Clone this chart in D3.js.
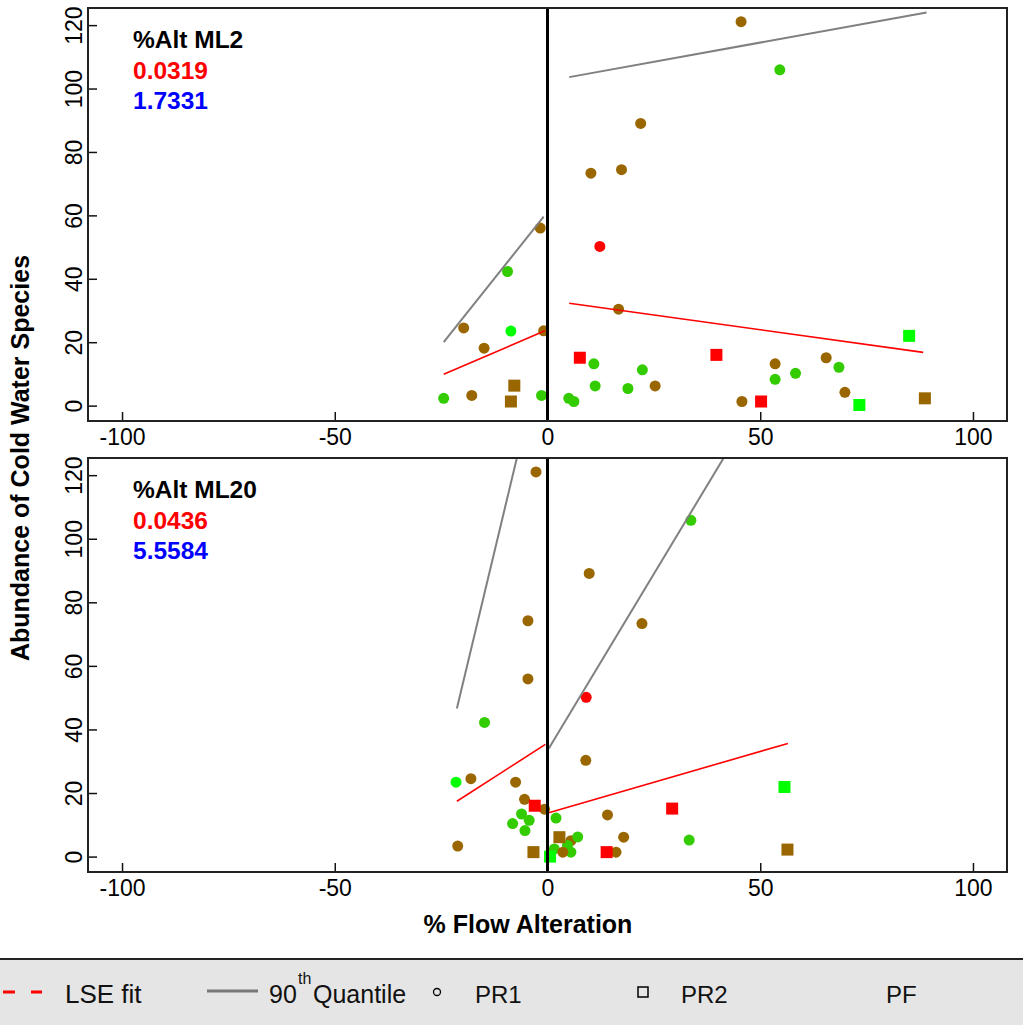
<!DOCTYPE html>
<html><head><meta charset="utf-8">
<script src="https://cdn.jsdelivr.net/npm/d3@7"></script>
<style>
html,body{margin:0;padding:0;background:#fff;}
svg{display:block;font-family:"Liberation Sans",Arial,sans-serif;}
</style></head>
<body>
<svg id="c" width="1023" height="1025"></svg>
<script>
// ---- data ----
const colorNames = ["brown","green","lime","red"];
const colorValues = ["#996600","#33cc00","#00ff00","#ff0000"];

// Panel 1: %Alt ML2
const ml2X = [45.5,54.6,21.9,10.2,17.4,-1.7,12.3,-9.4,16.7,-19.7,-8.6,-0.9,-14.9,7.6,39.7,10.9,22.3,11.2,18.9,25.3,-7.8,-8.6,-24.4,-17.8,-1.4,5.0,6.2,85.0,53.5,53.5,58.3,65.5,68.5,69.9,45.7,50.2,73.3,88.7];
const ml2Y = [121.1,105.9,89.0,73.3,74.4,56.0,50.2,42.3,30.4,24.5,23.5,23.6,18.1,15.1,16.0,13.2,11.3,6.2,5.4,6.2,6.3,1.3,2.3,3.2,3.2,2.3,1.3,22.0,13.2,8.3,10.2,15.1,12.1,4.2,1.3,1.3,0.2,2.3];
const ml2Shape = ["PR1","PR1","PR1","PR1","PR1","PR1","PR1","PR1","PR1","PR1","PR1","PR1","PR1","PR2","PR2","PR1","PR1","PR1","PR1","PR1","PR2","PR2","PR1","PR1","PR1","PR1","PR1","PR2","PR1","PR1","PR1","PR1","PR1","PR1","PR1","PR2","PR2","PR2"];
const ml2Color = ["brown","green","brown","brown","brown","brown","red","green","brown","brown","lime","brown","brown","red","red","green","green","green","green","brown","brown","brown","green","brown","green","green","green","lime","brown","green","green","brown","green","brown","brown","red","lime","brown"];
const ml2Quantile = [[[-24.4,20.0],[-0.9,59.6]],[[5.1,103.6],[89.1,124.0]]];
const ml2LSE = [[[-24.4,9.9],[-0.6,23.6]],[[5.1,32.3],[88.3,16.8]]];
const ml2Stats = ["%Alt ML2","0.0319","1.7331"];

// Panel 2: %Alt ML20
const ml20X = [5.5,-2.7,33.7,9.8,-4.6,22.2,-4.6,9.1,-14.8,9.0,-21.5,-18.0,-7.5,-5.4,-3.0,-0.7,2.0,14.1,29.3,55.7,-6.1,-4.3,-8.2,-5.3,2.8,7.1,17.9,33.3,-21.1,-3.3,0.6,4.7,5.5,1.6,3.6,13.9,16.1,56.4];
const ml20Y = [5.0,121.0,105.8,89.1,74.2,73.3,55.9,50.1,42.2,30.3,23.4,24.5,23.4,18.0,16.0,14.9,12.1,13.1,15.1,21.9,13.4,11.4,10.4,8.2,6.1,6.2,6.1,5.2,3.3,1.4,0.0,3.5,1.4,2.4,1.4,1.4,1.4,2.2];
const ml20Shape = ["PR1","PR1","PR1","PR1","PR1","PR1","PR1","PR1","PR1","PR1","PR1","PR1","PR1","PR1","PR2","PR1","PR1","PR1","PR2","PR2","PR1","PR1","PR1","PR1","PR2","PR1","PR1","PR1","PR1","PR2","PR2","PR1","PR1","PR1","PR1","PR2","PR1","PR2"];
const ml20Color = ["brown","brown","green","brown","brown","brown","brown","red","green","brown","lime","brown","brown","brown","red","brown","green","brown","red","lime","green","green","green","green","brown","green","brown","green","brown","brown","lime","green","green","green","brown","red","brown","brown"];
const ml20Quantile = [[[-21.3,46.6],[-7.2,125.4]],[[0.3,34.0],[41.4,125.4]]];
const ml20LSE = [[[-21.3,17.4],[-0.5,35.3]],[[0.3,13.8],[56.5,35.6]]];
const ml20Stats = ["%Alt ML20","0.0436","5.5584"];

const xTicks = [-100,-50,0,50,100];
const yTicks = [0,20,40,60,80,100,120];
const xTitle = "% Flow Alteration";
const yTitle = "Abundance of Cold Water Species";
const legendItems = ["LSE fit","90","th","Quantile","PR1","PR2","PF"];

// ---- drawing ----
const svg = d3.select("#c");
const color = d3.scaleOrdinal(colorNames, colorValues);

function panel(id, top, bottom, X, Y, S, C, quant, lse, stats){
  const left = 88, right = 1007;
  const x = d3.scaleLinear().domain([-108,108]).range([left,right]);
  const y = d3.scaleLinear().domain([-4.85,125.4]).range([bottom,top]);
  const g = svg.append("g");
  const clipId = "clip"+id;
  g.append("clipPath").attr("id",clipId).append("rect")
    .attr("x",left).attr("y",top).attr("width",right-left).attr("height",bottom-top);

  // axes with inward ticks
  const xa = g.append("g").attr("transform",`translate(0,${bottom})`)
    .call(d3.axisBottom(x).tickValues(xTicks).tickSize(-9).tickPadding(14).tickFormat(d=>d<0?"-"+Math.abs(d):d));
  xa.select(".domain").remove();
  xa.selectAll("line").attr("stroke","#111").attr("stroke-width",1.5);
  xa.selectAll("text").attr("font-size",23).attr("fill","#000").attr("dy","0.71em").attr("y",8);

  const ya = g.append("g").attr("transform",`translate(${left},0)`)
    .call(d3.axisLeft(y).tickValues(yTicks).tickSize(-9));
  ya.select(".domain").remove();
  ya.selectAll("line").attr("stroke","#111").attr("stroke-width",1.5);
  ya.selectAll(".tick text").attr("font-size",23).attr("fill","#000")
    .attr("x",null).attr("dy",null)
    .attr("text-anchor","middle")
    .attr("transform","translate(-6,0) rotate(-90)");

  const body = g.append("g").attr("clip-path",`url(#${clipId})`);
  const line = d3.line().x(d=>x(d[0])).y(d=>y(d[1]));

  // points
  const idx = d3.range(X.length);
  body.selectAll("circle.pt").data(idx.filter(i=>S[i]==="PR1")).join("circle")
    .attr("cx",i=>x(X[i])).attr("cy",i=>y(Y[i])).attr("r",5.5)
    .attr("fill",i=>color(C[i]));
  body.selectAll("rect.pt").data(idx.filter(i=>S[i]==="PR2")).join("rect")
    .attr("x",i=>x(X[i])-6).attr("y",i=>y(Y[i])-6).attr("width",12).attr("height",12)
    .attr("fill",i=>color(C[i]));

  // fits
  quant.forEach(seg=>body.append("path").attr("d",line(seg)).attr("fill","none")
    .attr("stroke","#808080").attr("stroke-width",2));
  lse.forEach(seg=>body.append("path").attr("d",line(seg)).attr("fill","none")
    .attr("stroke","#ff0000").attr("stroke-width",1.6));

  // zero line
  g.append("line").attr("x1",x(0)).attr("x2",x(0)).attr("y1",top).attr("y2",bottom)
    .attr("stroke","#000").attr("stroke-width",3);

  // box
  g.append("rect").attr("x",left).attr("y",top).attr("width",right-left).attr("height",bottom-top)
    .attr("fill","none").attr("stroke","#222").attr("stroke-width",2);

  // stats text
  const cols = ["#000","#ff0000","#0000ff"];
  stats.forEach((s,k)=>g.append("text").attr("x",133).attr("y",top+40+k*30.5)
    .attr("font-size",24.5).attr("font-weight","bold").attr("fill",cols[k]).text(s));
}

panel(1, 8, 421, ml2X, ml2Y, ml2Shape, ml2Color, ml2Quantile, ml2LSE, ml2Stats);
panel(2, 458, 872, ml20X, ml20Y, ml20Shape, ml20Color, ml20Quantile, ml20LSE, ml20Stats);

// axis titles
svg.append("text").attr("x",528).attr("y",933).attr("text-anchor","middle")
  .attr("font-size",25).attr("font-weight","bold").text(xTitle);
svg.append("text").attr("transform","translate(29,458) rotate(-90)").attr("text-anchor","middle")
  .attr("font-size",25).attr("font-weight","bold").text(yTitle);

// legend
const lg = svg.append("g");
lg.append("rect").attr("x",0).attr("y",959).attr("width",1023).attr("height",66).attr("fill","#e5e5e5");
lg.append("line").attr("x1",0).attr("x2",1023).attr("y1",959).attr("y2",959).attr("stroke","#222").attr("stroke-width",2);
lg.append("line").attr("x1",2).attr("x2",42).attr("y1",992).attr("y2",992)
  .attr("stroke","#ff0000").attr("stroke-width",3).attr("stroke-dasharray","12,16").attr("stroke-dashoffset",-1);
lg.append("line").attr("x1",207).attr("x2",258).attr("y1",991).attr("y2",991)
  .attr("stroke","#777").attr("stroke-width",3);
lg.append("circle").attr("cx",437).attr("cy",992).attr("r",3.5).attr("fill","none").attr("stroke","#000").attr("stroke-width",1.3);
lg.append("rect").attr("x",638).attr("y",987).attr("width",10).attr("height",10).attr("fill","none").attr("stroke","#000").attr("stroke-width",1.5);
const lt = (x,s,fs,yy)=>lg.append("text").attr("x",x).attr("y",yy||1003).attr("font-size",fs).attr("fill","#111").text(s);
lt(65,legendItems[0],26);
lt(269,legendItems[1],25);
lt(298,legendItems[2],16,984);
lt(313,legendItems[3],25);
lt(475,legendItems[4],24);
lt(681,legendItems[5],24);
lt(886,legendItems[6],24);
</script>
</body></html>
